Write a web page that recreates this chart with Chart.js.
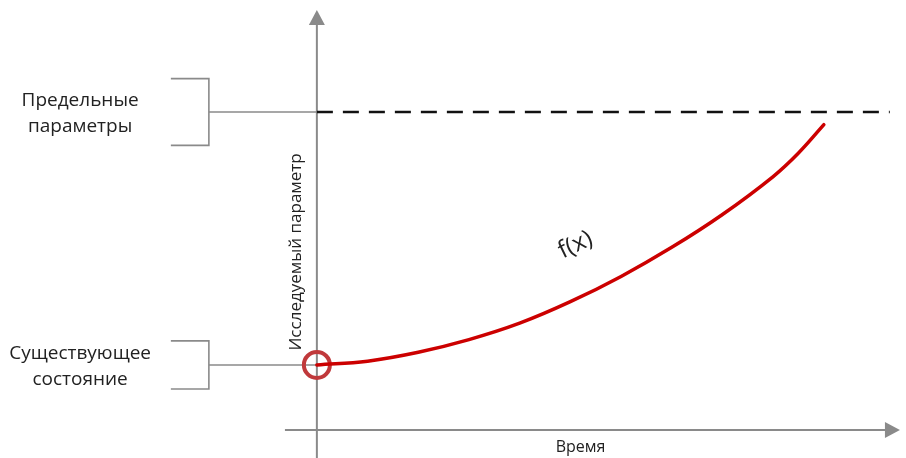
<!DOCTYPE html>
<html>
<head>
<meta charset="utf-8">
<script src="https://cdn.jsdelivr.net/npm/chart.js@4"></script>
<style>
  html, body { margin: 0; padding: 0; background: #fff; }
  #wrap { width: 906px; height: 458px; }
</style>
</head>
<body>
<div id="wrap"><canvas id="chart" width="906" height="458"></canvas></div>
<script>
// Данные графика
const timeSteps = [0, 1, 2, 3, 4, 5, 6, 7, 8, 9, 9.5, 10];
const paramValues = [0, 1.5, 5, 10, 16.5, 25, 35, 46.5, 59.5, 74.5, 83.8, 95];
const limitValue = 100;
const currentValue = 0;
const limitSpan = [0, 11.3];
const bracketLabels = [['Предельные', 'параметры'], ['Существующее', 'состояние']];
const bracketLevels = [limitValue, currentValue];
const xAxisTitle = 'Время';
const yAxisTitle = 'Исследуемый параметр';
const curveLabel = 'f(x)';

const AXIS_COLOR = '#8a8a8a';
const TEXT_COLOR = '#222';
const FONT = '"Open Sans", "DejaVu Sans", sans-serif';

// Оси, скобки и подписи
const schemePlugin = {
    id: 'scheme',
    beforeDatasetsDraw(chart) {
        const ctx = chart.ctx;
        const xs = chart.scales.x, ys = chart.scales.y;
        const X = v => xs.getPixelForValue(v);
        const Y = v => ys.getPixelForValue(v);

        ctx.save();
        ctx.strokeStyle = AXIS_COLOR;
        ctx.fillStyle = AXIS_COLOR;
        ctx.lineWidth = 2;

        // ось Y
        const x0 = X(0);
        const yTop = Y(140.3);
        ctx.beginPath();
        ctx.moveTo(x0, Y(ys.min));
        ctx.lineTo(x0, yTop + 12);
        ctx.stroke();
        ctx.beginPath();
        ctx.moveTo(x0, yTop);
        ctx.lineTo(x0 - 8, yTop + 15);
        ctx.lineTo(x0 + 8, yTop + 15);
        ctx.closePath();
        ctx.fill();

        // ось X
        const yAxisLine = Y(-25.7);
        const xEnd = X(11.5);
        ctx.beginPath();
        ctx.moveTo(X(-0.63), yAxisLine);
        ctx.lineTo(xEnd - 12, yAxisLine);
        ctx.stroke();
        ctx.beginPath();
        ctx.moveTo(xEnd, yAxisLine);
        ctx.lineTo(xEnd - 15, yAxisLine - 8);
        ctx.lineTo(xEnd - 15, yAxisLine + 8);
        ctx.closePath();
        ctx.fill();

        // скобки
        const spans = [13.2, 9.5];
        ctx.lineWidth = 1.6;
        bracketLevels.forEach((lvl, i) => {
            const yc = Y(lvl);
            const y1 = Y(lvl + spans[i]);
            const y2 = Y(lvl - spans[i]);
            const bx = X(-2.13), tx = X(-2.88);
            ctx.beginPath();
            ctx.moveTo(tx, y1);
            ctx.lineTo(bx, y1);
            ctx.lineTo(bx, y2);
            ctx.lineTo(tx, y2);
            ctx.moveTo(bx, yc);
            ctx.lineTo(x0, yc);
            ctx.stroke();
        });
        ctx.restore();
    },
    afterDraw(chart) {
        const ctx = chart.ctx;
        const xs = chart.scales.x, ys = chart.scales.y;
        const X = v => xs.getPixelForValue(v);
        const Y = v => ys.getPixelForValue(v);

        ctx.save();
        ctx.fillStyle = TEXT_COLOR;
        ctx.textAlign = 'center';
        ctx.textBaseline = 'middle';
        ctx.font = '19px ' + FONT;

        bracketLabels.forEach((lines, i) => {
            const yc = Y(bracketLevels[i]) + 2;
            lines.forEach((t, j) => {
                ctx.fillText(t, X(-4.67), yc + (j - 0.5) * 26);
            });
        });

        ctx.font = '16px ' + FONT;
        ctx.fillText(xAxisTitle, X(5.2), Y(-32.6));

        ctx.save();
        ctx.translate(X(-0.4), Y(44.7));
        ctx.rotate(-Math.PI / 2);
        ctx.font = '17px ' + FONT;
        ctx.fillText(yAxisTitle, 0, 0);
        ctx.restore();

        ctx.save();
        ctx.translate(X(5.1), Y(47.4));
        ctx.rotate(-0.45);
        ctx.font = '24px ' + FONT;
        ctx.fillText(curveLabel, 0, 0);
        ctx.restore();

        ctx.restore();
    }
};

const ctx = document.getElementById('chart').getContext('2d');
new Chart(ctx, {
    type: 'scatter',
    data: {
        datasets: [
            {
                label: 'limit',
                data: limitSpan.map(x => ({ x: x, y: limitValue })),
                showLine: true,
                borderColor: '#111',
                borderWidth: 2.5,
                borderDash: [16, 10],
                pointRadius: 0,
                clip: false
            },
            {
                label: curveLabel,
                data: timeSteps.map((t, i) => ({ x: t, y: paramValues[i] })),
                showLine: true,
                borderColor: '#cc0000',
                borderWidth: 3.5,
                borderCapStyle: 'round',
                tension: 0.4,
                pointRadius: 0,
                clip: false
            },
            {
                label: 'current',
                data: [{ x: 0, y: currentValue }],
                pointRadius: 13,
                pointBorderWidth: 4,
                pointBorderColor: '#c0393b',
                pointBackgroundColor: 'rgba(0,0,0,0)',
                clip: false
            }
        ]
    },
    options: {
        responsive: false,
        animation: false,
        events: [],
        layout: { padding: 0, autoPadding: false },
        plugins: {
            legend: { display: false },
            tooltip: { enabled: false }
        },
        scales: {
            x: { type: 'linear', display: false, min: -6.25, max: 11.62 },
            y: { type: 'linear', display: false, min: -36.8, max: 144.3 }
        }
    },
    plugins: [schemePlugin]
});
</script>
</body>
</html>
